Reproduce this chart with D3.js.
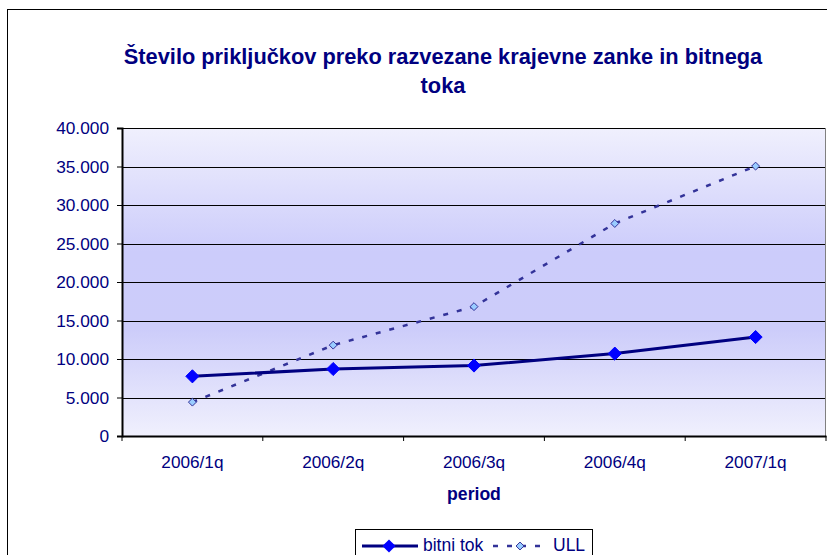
<!DOCTYPE html>
<html>
<head>
<meta charset="utf-8">
<script src="https://cdn.jsdelivr.net/npm/d3@7"></script>
<style>
  body { margin: 0; background: #fff; }
  text { font-family: "Liberation Sans", Arial, sans-serif; fill: #000080; }
</style>
</head>
<body>
<div id="chart"></div>
<script>
var categories = ["2006/1q", "2006/2q", "2006/3q", "2006/4q", "2007/1q"];
var bitniTok = [7750, 8700, 9150, 10700, 12850];
var ull = [4400, 11800, 16800, 27600, 35050];
var yTicks = [0, 5000, 10000, 15000, 20000, 25000, 30000, 35000, 40000];

var W = 827, H = 555;
var margin = { top: 128, right: 1, bottom: 119, left: 122 };
var width = W - margin.left - margin.right;
var height = H - margin.top - margin.bottom;

var svg = d3.select("#chart")
    .append("svg")
    .attr("width", W)
    .attr("height", H);

// outer chart frame (runs off right/bottom)
svg.append("rect")
    .attr("x", 7.5).attr("y", 9.5)
    .attr("width", 900).attr("height", 600)
    .attr("fill", "none")
    .attr("stroke", "#000")
    .attr("stroke-width", 1);

var defs = svg.append("defs");
var grad = defs.append("linearGradient")
    .attr("id", "bg")
    .attr("x1", 0).attr("y1", 0).attr("x2", 0).attr("y2", 1);
grad.append("stop").attr("offset", "0%").attr("stop-color", "#F0F0FD");
grad.append("stop").attr("offset", "40%").attr("stop-color", "#CCCCFB");
grad.append("stop").attr("offset", "65%").attr("stop-color", "#CCCCFA");
grad.append("stop").attr("offset", "100%").attr("stop-color", "#F0F0FD");

var g = svg.append("g")
    .attr("transform", `translate(${margin.left}, ${margin.top})`);

var x = d3.scaleBand()
    .domain(categories)
    .range([0, width]);

var y = d3.scaleLinear()
    .domain([0, 40000])
    .range([height, 0]);

g.append("rect")
    .attr("width", width)
    .attr("height", height)
    .attr("fill", "url(#bg)");

// gridlines
g.selectAll(".grid")
    .data(yTicks)
    .enter()
    .append("line")
    .attr("x1", 0).attr("x2", width)
    .attr("y1", d => Math.round(y(d)) + 0.5)
    .attr("y2", d => Math.round(y(d)) + 0.5)
    .attr("stroke", "#000")
    .attr("stroke-width", 1);

g.append("line")
    .attr("x1", width - 0.5).attr("x2", width - 0.5)
    .attr("y1", 0).attr("y2", height)
    .attr("stroke", "#808080");

var fmt = d => d === 0 ? "0" : d3.format(",")(d).replace(/,/g, ".");

var yAxis = g.append("g")
    .call(d3.axisLeft(y).tickValues(yTicks).tickSize(5).tickPadding(8).tickFormat(fmt));
yAxis.select(".domain").attr("stroke", "#000").attr("stroke-width", 2);
yAxis.selectAll("text").attr("font-size", "17.3px").attr("fill", "#000080");

var xAxis = g.append("g")
    .attr("transform", `translate(0, ${height})`)
    .call(d3.axisBottom(x).tickSize(0).tickPadding(20));
xAxis.select(".domain").attr("stroke", "#000").attr("stroke-width", 2);
xAxis.selectAll("text").attr("font-size", "17.2px").attr("fill", "#000080");

// category boundary ticks
var bounds = categories.map(c => x(c)).concat([width]);
g.selectAll(".xtick")
    .data(bounds)
    .enter()
    .append("line")
    .attr("x1", d => d).attr("x2", d => d)
    .attr("y1", height).attr("y2", height + 5)
    .attr("stroke", "#000");

var cx = (d, i) => x(categories[i]) + x.bandwidth() / 2;

var line = d3.line()
    .x(cx)
    .y(d => y(d));

g.append("path")
    .datum(ull)
    .attr("d", line)
    .attr("fill", "none")
    .attr("stroke", "#333399")
    .attr("stroke-width", 2.5)
    .attr("stroke-dasharray", "5,9");

g.append("path")
    .datum(bitniTok)
    .attr("d", line)
    .attr("fill", "none")
    .attr("stroke", "#000080")
    .attr("stroke-width", 3);

var bigDiamond = d3.symbol().type(d3.symbolDiamond2).size(110);
var smallDiamond = d3.symbol().type(d3.symbolDiamond2).size(40);

g.selectAll(".ullpt")
    .data(ull)
    .enter()
    .append("path")
    .attr("d", smallDiamond)
    .attr("transform", (d, i) => `translate(${cx(d, i)}, ${y(d)})`)
    .attr("fill", "#99CCFF")
    .attr("stroke", "#333399")
    .attr("stroke-width", 1);

g.selectAll(".btpt")
    .data(bitniTok)
    .enter()
    .append("path")
    .attr("d", bigDiamond)
    .attr("transform", (d, i) => `translate(${cx(d, i)}, ${y(d)})`)
    .attr("fill", "#0000FF")
    .attr("stroke", "#0000FF");

// title
var title = svg.append("text")
    .attr("x", 443)
    .attr("y", 64)
    .attr("text-anchor", "middle")
    .attr("font-size", "21.8px")
    .attr("font-weight", "bold");
title.append("tspan").attr("x", 443).text("Število priključkov preko razvezane krajevne zanke in bitnega");
title.append("tspan").attr("x", 443).attr("dy", 29).text("toka");

svg.append("text")
    .attr("x", margin.left + width / 2)
    .attr("y", 500)
    .attr("text-anchor", "middle")
    .attr("font-size", "17.6px")
    .attr("font-weight", "bold")
    .text("period");

// legend
var legend = svg.append("g");
legend.append("rect")
    .attr("x", 355.5).attr("y", 529.5)
    .attr("width", 237).attr("height", 40)
    .attr("fill", "#fff")
    .attr("stroke", "#000");
legend.append("line")
    .attr("x1", 362).attr("x2", 418).attr("y1", 546).attr("y2", 546)
    .attr("stroke", "#000080").attr("stroke-width", 3);
legend.append("path")
    .attr("d", bigDiamond)
    .attr("transform", "translate(389, 546)")
    .attr("fill", "#0000FF");
legend.append("text")
    .attr("x", 423).attr("y", 551)
    .attr("font-size", "17.5px")
    .text("bitni tok");
legend.append("line")
    .attr("x1", 493).attr("x2", 549).attr("y1", 546).attr("y2", 546)
    .attr("stroke", "#333399").attr("stroke-width", 2.5)
    .attr("stroke-dasharray", "5,9");
legend.append("path")
    .attr("d", smallDiamond)
    .attr("transform", "translate(520, 546)")
    .attr("fill", "#99CCFF")
    .attr("stroke", "#333399");
legend.append("text")
    .attr("x", 553).attr("y", 551)
    .attr("font-size", "17.5px")
    .text("ULL");
</script>
</body>
</html>
